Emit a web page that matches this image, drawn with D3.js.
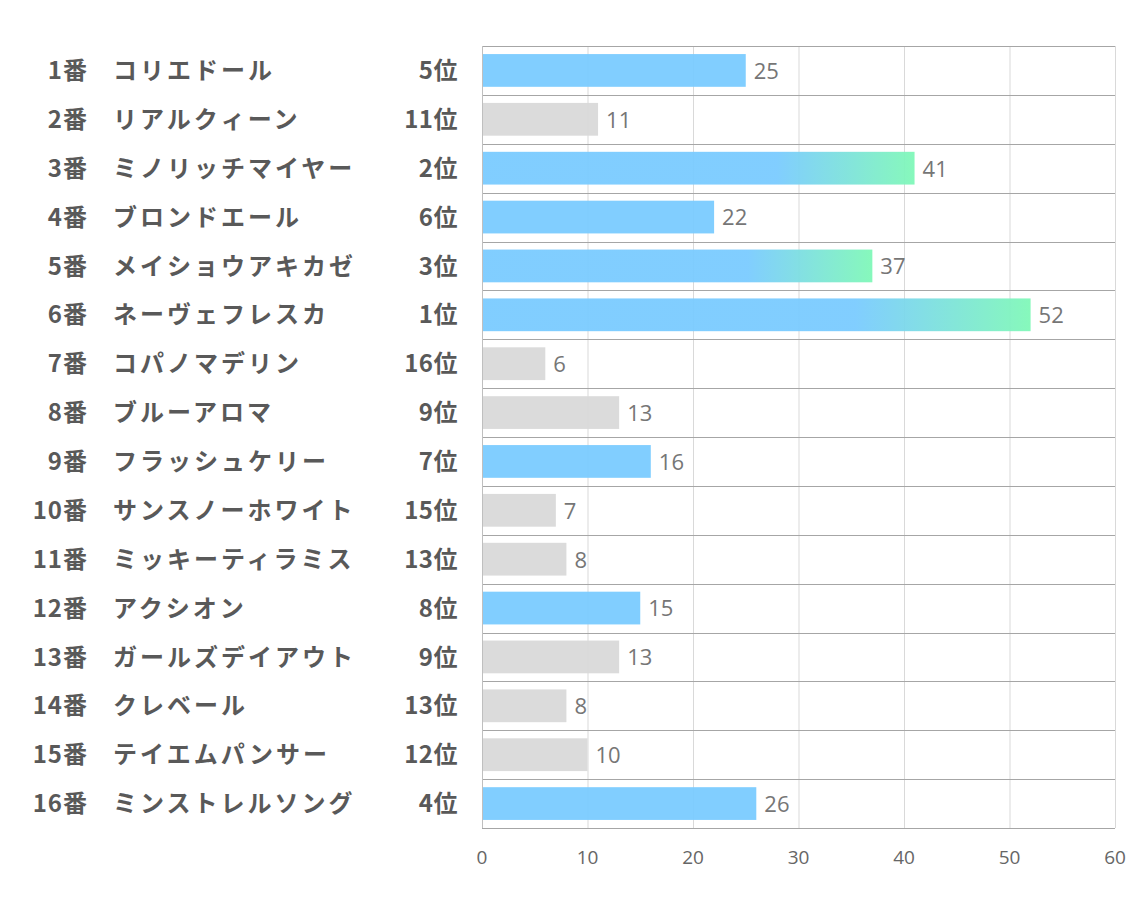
<!DOCTYPE html>
<html><head><meta charset="utf-8">
<script src="https://cdn.jsdelivr.net/npm/d3@7"></script>
<style>body{margin:0;background:#fff}</style>
</head><body>
<svg id="c" width="1134" height="907"></svg>
<script>
const nums = ["1番","2番","3番","4番","5番","6番","7番","8番","9番","10番","11番","12番","13番","14番","15番","16番"];
const names = ["コリエドール","リアルクィーン","ミノリッチマイヤー","ブロンドエール","メイショウアキカゼ","ネーヴェフレスカ","コパノマデリン","ブルーアロマ","フラッシュケリー","サンスノーホワイト","ミッキーティラミス","アクシオン","ガールズデイアウト","クレベール","テイエムパンサー","ミンストレルソング"];
const ranks = [5,11,2,6,3,1,16,9,7,15,13,8,9,13,12,4];
const values = [25,11,41,22,37,52,6,13,16,7,8,15,13,8,10,26];
const ticks = [0,10,20,30,40,50,60];

const svg = d3.select("#c");
const L = 482, R = 1115, T = 46, B = 828;
const x = d3.scaleLinear().domain([0,60]).range([L,R]);
const y = d3.scaleBand().domain(d3.range(nums.length)).range([T,B]).paddingInner(0.33).paddingOuter(0.165);
const rows = d3.scaleBand().domain(d3.range(nums.length)).range([T,B]);

const defs = svg.append("defs");
const g = defs.append("linearGradient").attr("id","grad").attr("x1","0").attr("x2","1").attr("y1","0").attr("y2","0");
g.append("stop").attr("offset","0.68").attr("stop-color","#7ACBFF");
g.append("stop").attr("offset","1").attr("stop-color","#80F8B8");

// vertical gridlines
svg.append("g").selectAll("line").data(ticks.slice(1)).join("line")
  .attr("x1",d=>x(d)+0.5).attr("x2",d=>x(d)+0.5).attr("y1",T).attr("y2",B)
  .attr("stroke","#d9d9d9").attr("stroke-width",1);
// horizontal separators
svg.append("g").selectAll("line").data(d3.range(nums.length+1)).join("line")
  .attr("x1",L).attr("x2",R).attr("y1",i=>Math.round(T + i*rows.step())+0.5).attr("y2",i=>Math.round(T + i*rows.step())+0.5)
  .attr("stroke","#a6a6a6").attr("stroke-width",1);
// axis line
svg.append("line").attr("x1",L+0.5).attr("x2",L+0.5).attr("y1",T).attr("y2",B).attr("stroke","#bfbfbf");

// bars
svg.append("g").selectAll("rect").data(values).join("rect")
  .attr("x",x(0)+1).attr("y",(d,i)=>y(i)).attr("height",y.bandwidth())
  .attr("width",d=>x(d)-x(0)-1)
  .attr("fill",(d,i)=> ranks[i]<=3 ? "url(#grad)" : ranks[i]<=8 ? "#7ACBFF" : "#D9D9D9")
  .attr("fill-opacity",0.95);

// value labels
svg.append("g").selectAll("text").data(values).join("text")
  .attr("x",d=>x(d)+8).attr("y",(d,i)=>y(i)+y.bandwidth()/2).attr("dy","0.38em")
  .attr("font-family","'Open Sans','Noto Sans',sans-serif").attr("font-size",22).attr("fill","#767676")
  .text(d=>d);

const lf = "'Noto Sans CJK JP',sans-serif";
const lab = svg.append("g").attr("font-family",lf).attr("font-weight","bold").attr("font-size",24).attr("fill","#595959");
lab.selectAll("text.n").data(nums).join("text").attr("class","n")
  .attr("x",88).attr("y",(d,i)=>rows(i)+rows.bandwidth()/2).attr("dy","0.36em").attr("text-anchor","end").attr("letter-spacing","1px").text(d=>d);
lab.selectAll("text.m").data(names).join("text").attr("class","m")
  .attr("x",113).attr("y",(d,i)=>rows(i)+rows.bandwidth()/2).attr("dy","0.36em").attr("letter-spacing","3px").text(d=>d);
lab.selectAll("text.r").data(ranks).join("text").attr("class","r")
  .attr("x",458).attr("y",(d,i)=>rows(i)+rows.bandwidth()/2).attr("dy","0.36em").attr("text-anchor","end").attr("letter-spacing","0.5px").text(d=>d+"位");

// x axis ticks
svg.append("g").selectAll("text").data(ticks).join("text")
  .attr("x",d=>x(d)).attr("y",857).attr("dy","0.36em").attr("text-anchor","middle")
  .attr("font-family","'Open Sans','Noto Sans',sans-serif").attr("font-size",19).attr("fill","#666666")
  .text(d=>d);
</script>
</body></html>
